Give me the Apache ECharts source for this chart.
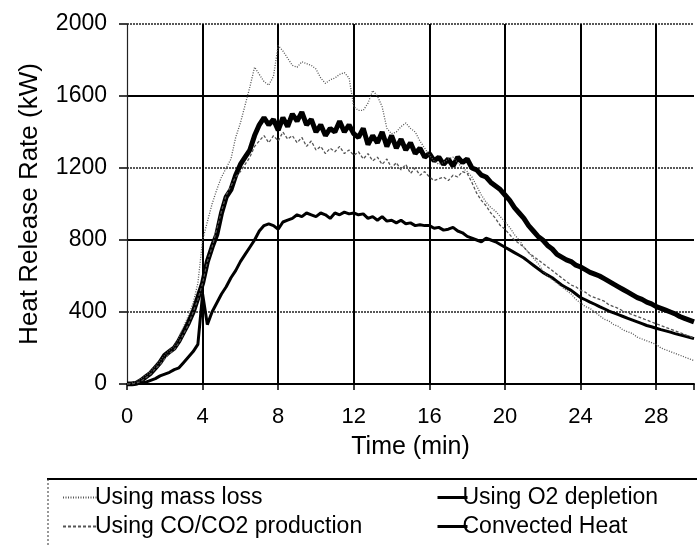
<!DOCTYPE html>
<html>
<head>
<meta charset="utf-8">
<script src="https://cdn.jsdelivr.net/npm/echarts@6/dist/echarts.min.js"></script>
<style>
html,body{margin:0;padding:0;background:#fff;}
#chart{width:697px;height:545px;}
</style>
</head>
<body>
<div id="chart"></div>
<script>
// Time (min)
const time = [0,0.25,0.5,0.75,1,1.25,1.5,1.75,2,2.25,2.5,2.75,3,3.25,3.5,3.75,4,4.25,4.5,4.75,5,5.25,5.5,5.75,6,6.25,6.5,6.75,7,7.25,7.5,7.75,8,8.25,8.5,8.75,9,9.25,9.5,9.75,10,10.25,10.5,10.75,11,11.25,11.5,11.75,12,12.25,12.5,12.75,13,13.25,13.5,13.75,14,14.25,14.5,14.75,15,15.25,15.5,15.75,16,16.25,16.5,16.75,17,17.25,17.5,17.75,18,18.25,18.5,18.75,19,19.25,19.5,19.75,20,20.25,20.5,20.75,21,21.25,21.5,21.75,22,22.25,22.5,22.75,23,23.25,23.5,23.75,24,24.25,24.5,24.75,25,25.25,25.5,25.75,26,26.25,26.5,26.75,27,27.25,27.5,27.75,28,28.25,28.5,28.75,29,29.25,29.5,29.75,30];

const massLoss = [0,5,15,30,50,70,100,130,160,190,210,260,320,380,450,560,800,900,1000,1080,1150,1200,1250,1370,1450,1550,1650,1760,1720,1680,1660,1710,1880,1850,1810,1770,1760,1790,1780,1770,1750,1700,1670,1690,1700,1720,1730,1700,1540,1520,1520,1560,1630,1600,1540,1420,1390,1400,1430,1450,1420,1400,1350,1310,1270,1240,1220,1230,1250,1260,1230,1200,1180,1150,1100,1050,1010,980,960,930,900,870,830,800,760,730,700,670,630,600,580,560,540,520,500,470,450,430,420,400,380,360,350,330,320,300,290,280,260,250,240,230,220,200,190,180,170,160,150,140,130];

const coCo2 = [0,0,5,15,35,55,85,110,140,170,190,230,280,330,400,470,560,680,760,860,960,1050,1100,1150,1180,1220,1260,1320,1350,1380,1340,1380,1350,1400,1360,1380,1340,1370,1320,1350,1300,1320,1280,1310,1290,1320,1280,1300,1270,1290,1250,1280,1240,1260,1220,1250,1200,1230,1190,1220,1170,1200,1160,1180,1150,1130,1140,1150,1130,1160,1150,1180,1170,1120,1060,1020,990,950,920,880,860,830,800,780,760,730,710,690,670,650,630,610,590,570,550,540,520,510,490,480,470,460,440,430,420,405,395,385,375,365,355,345,335,325,315,305,295,285,275,265,255,245,240];

const o2Depletion = [0,0,5,20,40,60,90,120,160,180,200,240,290,340,400,480,560,680,760,830,950,1040,1080,1160,1220,1260,1300,1380,1440,1480,1440,1470,1410,1480,1430,1500,1460,1510,1440,1470,1400,1440,1380,1420,1400,1460,1400,1440,1390,1370,1420,1330,1380,1340,1400,1320,1380,1310,1360,1300,1340,1280,1310,1260,1280,1240,1260,1220,1250,1210,1260,1230,1250,1200,1190,1160,1150,1120,1100,1080,1050,1020,980,950,920,880,850,820,800,770,750,720,705,690,680,660,650,635,620,610,600,585,570,555,540,525,510,495,480,470,455,445,430,420,410,400,390,375,365,355,345,338,330];

const convected = [0,0,0,5,10,20,30,45,55,65,80,90,120,150,180,220,500,330,400,450,500,540,590,630,680,720,760,800,850,880,890,880,860,900,910,920,940,930,950,940,930,950,940,920,950,940,955,945,950,940,945,920,930,910,930,905,910,895,910,890,895,880,885,880,880,865,870,855,860,870,850,840,820,810,800,790,810,800,790,775,760,745,730,715,700,680,660,640,620,605,590,570,550,535,520,500,480,468,455,443,430,418,405,395,385,375,365,355,345,335,325,318,310,302,295,288,280,273,267,260,252];

const yTicks = [0,400,800,1200,1600,2000];

function pairs(vals){ return time.map((t,i)=>[t, vals[i]]); }

const chart = echarts.init(document.getElementById('chart'), null, {renderer:'canvas'});
const FONT = 'Liberation Sans, Arial, sans-serif';

const option = {
  backgroundColor:'#fff',
  animation:false,
  grid:{left:127, right:-3, top:24, bottom:161},
  xAxis:{
    type:'value', min:0, max:30, interval:4,
    name:'Time (min)', nameLocation:'middle', nameGap:51,
    nameTextStyle:{fontFamily:FONT, fontSize:25, color:'#000'},
    axisLine:{show:true, onZero:false, lineStyle:{color:'#000', width:2}},
    axisTick:{show:true, length:6, lineStyle:{color:'#000', width:1.5}},
    axisLabel:{fontFamily:FONT, fontSize:22, color:'#000', margin:22,
      formatter:function(v){ return (v % 4 === 0) ? String(v) : ''; }},
    splitLine:{show:true, showMinLine:false, showMaxLine:false, lineStyle:{color:'#000', width:2}}
  },
  yAxis:[{
    type:'value', min:0, max:2000, interval:400,
    name:'Heat Release Rate (kW)', nameLocation:'middle', nameGap:84,
    nameTextStyle:{fontFamily:FONT, fontSize:26, color:'#000'},
    axisLine:{show:true, lineStyle:{color:'#222', width:1.2}},
    axisTick:{show:true, length:8, lineStyle:{color:'#000', width:1.5}},
    axisLabel:{fontFamily:FONT, fontSize:23, color:'#000', margin:20,
      formatter:function(v){ return yTicks.indexOf(v) >= 0 ? String(v) : ''; }},
    splitLine:{show:true, showMinLine:false, lineStyle:{color:'#222', width:1.5, type:[2,1]}}
  },{
    type:'value', min:0, max:2000, interval:800, position:'left',
    axisLine:{show:false}, axisTick:{show:false}, axisLabel:{show:false},
    splitLine:{show:true, showMinLine:false, showMaxLine:false, lineStyle:{color:'#000', width:2}}
  }],
  legend:[{
    left:57, top:480, orient:'vertical', itemWidth:35, itemHeight:14, itemGap:4,
    textStyle:{fontFamily:FONT, fontSize:23, color:'#000', lineHeight:25, padding:[0,0,0,-8]},
    itemStyle:{opacity:0},
    data:['Using mass loss','Using CO/CO2 production']
  },{
    left:431, top:480, orient:'vertical', itemWidth:30, itemHeight:14, itemGap:4,
    textStyle:{fontFamily:FONT, fontSize:23, color:'#000', lineHeight:25, padding:[0,0,0,-10]},
    itemStyle:{opacity:0},
    lineStyle:{width:3},
    data:['Using O2 depletion','Convected Heat']
  }],
  graphic:[
    {type:'line', shape:{x1:47, y1:479, x2:697, y2:479}, style:{stroke:'#000', lineWidth:2}, silent:true},
    {type:'line', shape:{x1:48, y1:479, x2:48, y2:545}, style:{stroke:'#333', lineWidth:1, lineDash:[2,2]}, silent:true}
  ],
  series:[
    {name:'Using O2 depletion', type:'line', data:pairs(o2Depletion), showSymbol:false, symbol:'none',
     itemStyle:{color:'#000', opacity:0}, lineStyle:{color:'#000', width:5}, z:2},
    {name:'Convected Heat', type:'line', data:pairs(convected), showSymbol:false, symbol:'none',
     itemStyle:{color:'#000', opacity:0}, lineStyle:{color:'#000', width:3}, z:3},
    {name:'Using CO/CO2 production', type:'line', data:pairs(coCo2), showSymbol:false, symbol:'none',
     itemStyle:{color:'#555', opacity:0}, lineStyle:{color:'#555', width:1.3, type:[3,2]}, z:4},
    {name:'Using mass loss', type:'line', data:pairs(massLoss), showSymbol:false, symbol:'none',
     itemStyle:{color:'#555', opacity:0}, lineStyle:{color:'#555', width:1.3, type:[1,1.5]}, z:5}
  ]
};
chart.setOption(option);
</script>
</body>
</html>
